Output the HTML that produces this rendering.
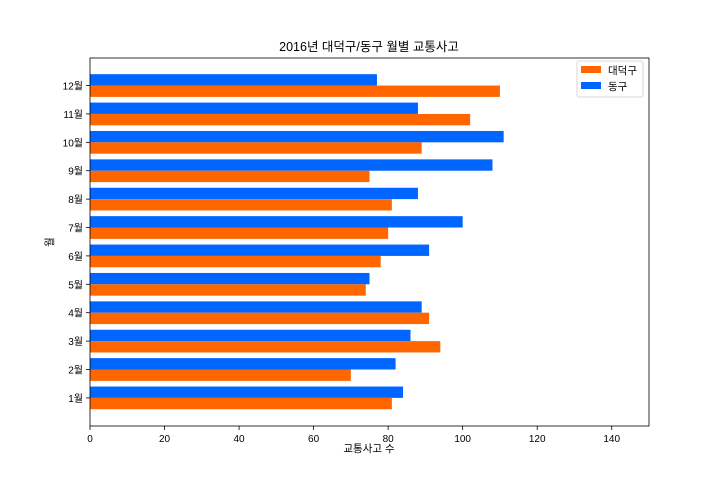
<!DOCTYPE html>
<html><head><meta charset="utf-8"><style>
body{margin:0;background:#fff;}
svg text{font-family:"Liberation Sans","Noto Sans CJK KR",sans-serif;fill:#000;}
</style></head><body>
<svg id="chart" width="720" height="479" viewBox="0 0 720 479" xmlns="http://www.w3.org/2000/svg">
<rect width="720" height="479" fill="#fff"/>
<text x="369" y="51" font-size="12.5" text-anchor="middle">2016년 대덕구/동구 월별 교통사고</text>
<g id="bars"></g>
<g id="axes"></g>
<text x="369" y="452" font-size="10.5" text-anchor="middle">교통사고 수</text>
<text x="0" y="0" font-size="10.5" text-anchor="middle" transform="translate(53,242) rotate(-90)">월</text>
<g>
<rect x="577" y="61" width="66" height="36" rx="2" fill="#fff" stroke="#ccc" stroke-width="0.8"/>
<rect x="581" y="66" width="20" height="7" fill="#ff6600"/>
<text x="608" y="74" font-size="10.5">대덕구</text>
<rect x="581" y="82" width="20" height="7" fill="#0066ff"/>
<text x="608" y="90" font-size="10.5">동구</text>
</g>
</svg>
<script>
const months = ["1월","2월","3월","4월","5월","6월","7월","8월","9월","10월","11월","12월"];
const daedeok = [81,70,94,91,74,78,80,81,75,89,102,110];
const donggu = [84,82,86,89,75,91,100,88,108,111,88,77];
const xTicks = [0,20,40,60,80,100,120,140];

const L=90,R=649,T=58,B=426,xMax=150,yMin=-0.99,yMax=11.97;
const xs=v=>L+(v/xMax)*(R-L);
const ys=i=>B-(i-yMin)/(yMax-yMin)*(B-T);
const NS="http://www.w3.org/2000/svg";
const bars=document.getElementById('bars'), axes=document.getElementById('axes');
function mk(tag,attrs,parent){const e=document.createElementNS(NS,tag);for(const k in attrs)e.setAttribute(k,attrs[k]);parent.appendChild(e);return e;}
const step=(B-T)/(yMax-yMin), h=step*0.4;
months.forEach((m,i)=>{
  const c=ys(i);
  const b=mk('rect',{x:L,y:c-h,width:xs(donggu[i])-L,height:h,fill:'#0066ff'},bars);
  
  
  const o=mk('rect',{x:L,y:c,width:xs(daedeok[i])-L,height:h,fill:'#ff6600'},bars);
  
  
  mk('line',{x1:L-4,x2:L,y1:c,y2:c,stroke:'#000','stroke-width':0.8},axes);
  const t=mk('text',{x:L-7,y:c+4,'font-size':10,'text-anchor':'end'},axes);
  t.textContent=m;
  
  
});
xTicks.forEach(v=>{
  const x=xs(v);
  mk('line',{x1:x,x2:x,y1:B,y2:B+4,stroke:'#000','stroke-width':0.8},axes);
  const t=mk('text',{x:x,y:B+16,'font-size':10,'text-anchor':'middle'},axes);
  t.textContent=v;
  
  
});
const fr=mk('rect',{x:L,y:T,width:R-L,height:B-T,fill:'none',stroke:'#000','stroke-width':0.8},axes);


</script>
</body></html>
